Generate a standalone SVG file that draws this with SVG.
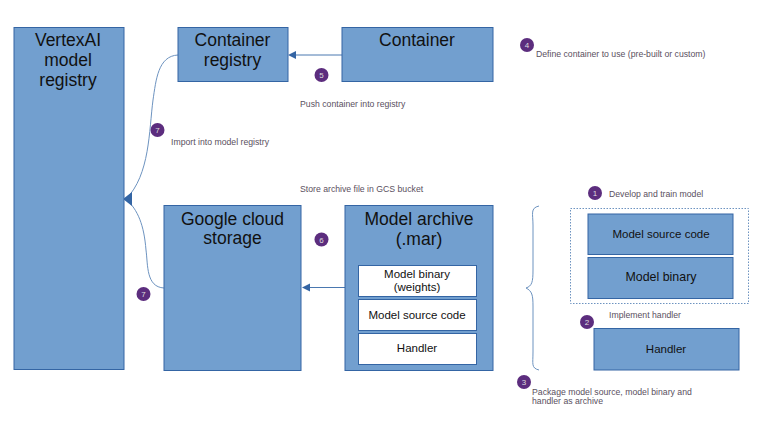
<svg xmlns="http://www.w3.org/2000/svg" width="766" height="431" viewBox="0 0 766 431">
<style>
text{font-family:"Liberation Sans",Arial,sans-serif}
.b{fill:#729fcf;stroke:#3465a4;stroke-width:1}
.w{fill:#fff;stroke:#3465a4;stroke-width:1}
.t{font-size:17.500px;fill:#111;text-anchor:middle}
.m{font-size:11.500px;fill:#111;text-anchor:middle}
.n{font-size:8.700px;fill:#5a5060}
.c{fill:#5c2d7e}
.d{font-size:8px;fill:#ddd;text-anchor:middle}
.l{fill:none;stroke:#4a78b0;stroke-width:1}
.s{fill:none;stroke:#6d93c0;stroke-width:1}
</style>
<g id="connectors">
<path class="l" d="M342 55H296"/><path d="M288 55L296 51V59Z" fill="#3465a4"/>
<path class="l" d="M345 287.500H310"/><path d="M302 287.500L310 283.500V291.500Z" fill="#3465a4"/>
<path class="s" d="M178 55C158 56 156 80 153 100C149 130 150 175 126 199"/>
<path class="s" d="M164 288C146 287 148 265 146 250C144 225 138 210 126 199"/>
<path d="M123 199L132 192V206Z" fill="#3465a4"/>
</g>
<g id="vertexai"><rect class="b" x="14" y="27.500" width="110" height="342"/><text class="t" x="68" y="46">VertexAI</text><text class="t" x="68" y="66">model</text><text class="t" x="68" y="86">registry</text></g>
<g id="container-registry"><rect class="b" x="178" y="27.500" width="110" height="54"/><text class="t" x="232.500" y="46">Container</text><text class="t" x="232.500" y="66">registry</text></g>
<g id="container"><rect class="b" x="342" y="27.500" width="151" height="54"/><text class="t" x="417" y="46">Container</text></g>
<g id="gcs"><rect class="b" x="164" y="205.500" width="137" height="165"/><text class="t" x="232.500" y="225">Google cloud</text><text class="t" x="232.500" y="244">storage</text></g>
<g id="model-archive"><rect class="b" x="345" y="205.500" width="148" height="165"/><text class="t" x="419" y="225">Model archive</text><text class="t" x="419" y="245">(.mar)</text></g>
<g id="archive-binary"><rect class="w" x="358.500" y="265.500" width="118" height="31"/><text class="m" x="417" y="278">Model binary</text><text class="m" x="417" y="291">(weights)</text></g>
<g id="archive-source"><rect class="w" x="358.500" y="299.500" width="118" height="31"/><text class="m" x="417" y="319">Model source code</text></g>
<g id="archive-handler"><rect class="w" x="358.500" y="333.500" width="118" height="31"/><text class="m" x="417" y="352">Handler</text></g>
<g id="dotted-group"><rect x="570.500" y="208.500" width="178" height="95" fill="none" stroke="#6d93c0" stroke-width="1" stroke-dasharray="1.500 1.500"/></g>
<g id="model-source"><rect class="b" x="588" y="214" width="145" height="40.500"/><text class="m" x="661" y="238">Model source code</text></g>
<g id="model-binary"><rect class="b" x="588" y="257.500" width="145" height="41"/><text class="m" x="661" y="281" style="font-size:12.400px">Model binary</text></g>
<g id="handler"><rect class="b" x="594" y="328.500" width="145" height="41.500"/><text class="m" x="666" y="353">Handler</text></g>
<g id="brace"><path class="s" d="M539 206C530 208 533 214 533 225V270C533 282 532 286 526 288C532 291 533 295 533 306V352C533 364 531 368 539 370"/></g>
<g id="badge-1"><circle class="c" cx="595" cy="193" r="7"/><text class="d" x="595" y="196">1</text></g>
<g id="badge-2"><circle class="c" cx="587" cy="322" r="7"/><text class="d" x="587" y="325">2</text></g>
<g id="badge-3"><circle class="c" cx="524" cy="382" r="7"/><text class="d" x="524" y="385">3</text></g>
<g id="badge-4"><circle class="c" cx="527" cy="45" r="7"/><text class="d" x="527" y="48">4</text></g>
<g id="badge-5"><circle class="c" cx="321.500" cy="75" r="7"/><text class="d" x="321.500" y="78">5</text></g>
<g id="badge-6"><circle class="c" cx="321.500" cy="239.500" r="7"/><text class="d" x="321.500" y="242.500">6</text></g>
<g id="badge-7a"><circle class="c" cx="157.500" cy="130" r="7"/><text class="d" x="157.500" y="133">7</text></g>
<g id="badge-7b"><circle class="c" cx="143.500" cy="294" r="7"/><text class="d" x="143.500" y="297">7</text></g>
<g id="notes">
<text class="n" x="536" y="57">Define container to use (pre-built or custom)</text>
<text class="n" x="300" y="107">Push container into registry</text>
<text class="n" x="171" y="145">Import into model registry</text>
<text class="n" x="300" y="192">Store archive file in GCS bucket</text>
<text class="n" x="609" y="197">Develop and train model</text>
<text class="n" x="609" y="318">Implement handler</text>
<text class="n" x="532" y="395">Package model source, model binary and</text>
<text class="n" x="532" y="404">handler as archive</text>
</g>
</svg>
